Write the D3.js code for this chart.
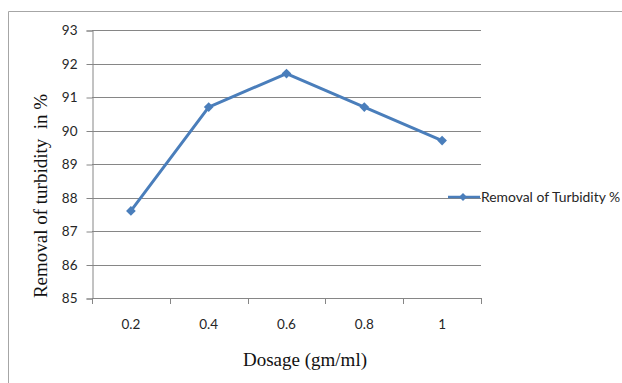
<!DOCTYPE html>
<html>
<head>
<meta charset="utf-8">
<script src="https://cdn.jsdelivr.net/npm/d3@7/dist/d3.min.js"></script>
<style>
  html, body { margin: 0; padding: 0; background: #fff; }
  svg { display: block; }
</style>
</head>
<body>
<svg id="chart" width="622" height="383"></svg>
<script>
// Turbidity removal versus coagulant dosage
const dosages = ["0.2", "0.4", "0.6", "0.8", "1"];
const removal = [87.6, 90.7, 91.7, 90.7, 89.7];
const yTicks = [85, 86, 87, 88, 89, 90, 91, 92, 93];
const seriesName = "Removal of Turbidity %";
const xTitle = "Dosage (gm/ml)";
const yTitle = "Removal of turbidity  in %";

const W = 622, H = 383;
const plot = { left: 92, right: 481, top: 30, bottom: 298 };
const lineColor = "#4a7ebb";
const gridColor = "#868686";
const tickFont = "Lato, 'Liberation Sans', sans-serif";
const tickSize = "13.5px";
const titleFont = "'Liberation Serif', 'DejaVu Serif', serif";

const svg = d3.select("#chart");

// outer chart frame
svg.append("path")
  .attr("d", `M${W},11.5H8.5V${H}`)
  .attr("fill", "none")
  .attr("stroke", "#a6a6a6")
  .attr("stroke-width", 1);

const x = d3.scaleBand().domain(dosages).range([plot.left, plot.right]);
const y = d3.scaleLinear().domain([85, 93]).range([plot.bottom, plot.top]);

// horizontal gridlines
svg.append("g")
  .selectAll("line")
  .data(yTicks)
  .join("line")
  .attr("x1", plot.left)
  .attr("x2", plot.right)
  .attr("y1", d => Math.round(y(d)) + 0.5)
  .attr("y2", d => Math.round(y(d)) + 0.5)
  .attr("stroke", gridColor)
  .attr("stroke-width", 1);

// y axis
const yAxis = svg.append("g")
  .attr("transform", `translate(${plot.left + 0.5},0.5)`)
  .call(d3.axisLeft(y).tickValues(yTicks).tickSize(6).tickPadding(9).tickFormat(d3.format("d")));
yAxis.select(".domain").attr("stroke", gridColor);
yAxis.selectAll(".tick line").attr("stroke", gridColor);
yAxis.selectAll(".tick text")
  .attr("font-family", tickFont)
  .attr("font-size", tickSize)
  .attr("fill", "#262626");

// x axis: ticks at category boundaries, labels centred in each band
const boundaries = d3.range(dosages.length + 1).map(i => plot.left + i * x.step());
const xAxis = svg.append("g");
xAxis.append("line")
  .attr("x1", plot.left).attr("x2", plot.right)
  .attr("y1", Math.round(y(85)) + 0.5).attr("y2", Math.round(y(85)) + 0.5)
  .attr("stroke", gridColor);
xAxis.selectAll("line.tick")
  .data(boundaries)
  .join("line")
  .attr("class", "tick")
  .attr("x1", d => Math.round(d) + 0.5)
  .attr("x2", d => Math.round(d) + 0.5)
  .attr("y1", Math.round(y(85)))
  .attr("y2", Math.round(y(85)) + 6)
  .attr("stroke", gridColor);
xAxis.selectAll("text")
  .data(dosages)
  .join("text")
  .attr("x", d => x(d) + x.bandwidth() / 2)
  .attr("y", 329)
  .attr("text-anchor", "middle")
  .attr("font-family", tickFont)
  .attr("font-size", tickSize)
  .attr("fill", "#262626")
  .text(d => d);

// data line
const pts = dosages.map((d, i) => [x(d) + x.bandwidth() / 2, y(removal[i])]);
svg.append("path")
  .attr("d", d3.line()(pts))
  .attr("fill", "none")
  .attr("stroke", lineColor)
  .attr("stroke-width", 3)
  .attr("stroke-linejoin", "round");

const diamond = d3.symbol().type(d3.symbolDiamond2).size(60);
svg.append("g")
  .selectAll("path")
  .data(pts)
  .join("path")
  .attr("transform", d => `translate(${d[0]},${d[1]})`)
  .attr("d", diamond)
  .attr("fill", lineColor);

// axis titles
svg.append("text")
  .attr("x", 305)
  .attr("y", 366)
  .attr("text-anchor", "middle")
  .attr("font-family", titleFont)
  .attr("font-size", "19px")
  .attr("fill", "#111")
  .text(xTitle);

svg.append("text")
  .attr("transform", "translate(47,196) rotate(-90)")
  .attr("text-anchor", "middle")
  .attr("font-family", titleFont)
  .attr("font-size", "19px")
  .attr("fill", "#111")
  .style("white-space", "pre")
  .text(yTitle);

// legend
const legend = svg.append("g").attr("transform", "translate(448,197)");
legend.append("line")
  .attr("x1", 0).attr("x2", 32)
  .attr("stroke", lineColor).attr("stroke-width", 2.5);
legend.append("path")
  .attr("transform", "translate(15,0)")
  .attr("d", d3.symbol().type(d3.symbolDiamond2).size(40))
  .attr("fill", lineColor);
legend.append("text")
  .attr("x", 33)
  .attr("y", 5)
  .attr("font-family", tickFont)
  .attr("font-size", "13.9px")
  .attr("fill", "#262626")
  .text(seriesName);
</script>
</body>
</html>
